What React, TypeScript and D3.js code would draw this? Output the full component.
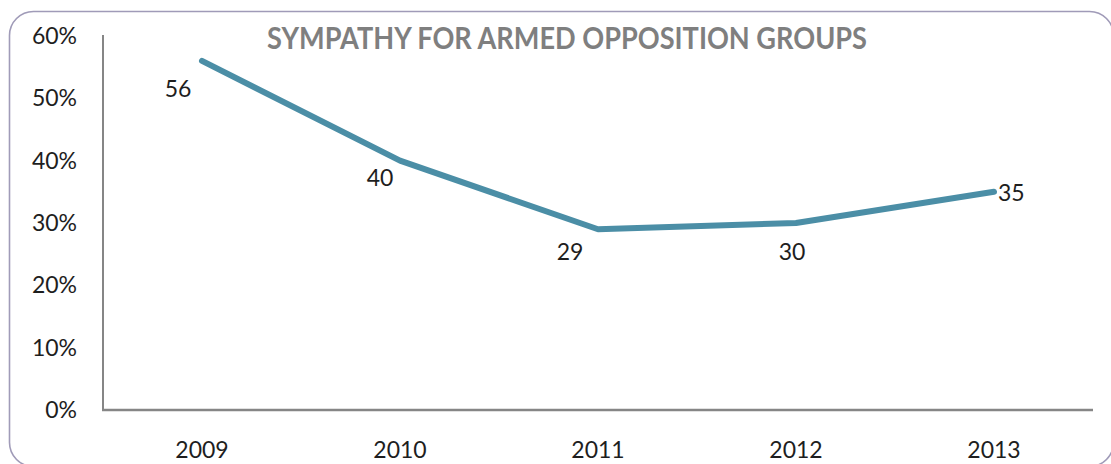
import React from "react";
import * as d3 from "d3";

const years = ["2009", "2010", "2011", "2012", "2013"];
const sympathy = [56, 40, 29, 30, 35];
const yTicks = [0, 10, 20, 30, 40, 50, 60];
const title = "SYMPATHY FOR ARMED OPPOSITION GROUPS";

const W = 1111;
const H = 464;
const FONT = "Lato, 'Open Sans', sans-serif";

export default function App() {
  const x = d3.scaleBand<string>().domain(years).range([103, 1093]).padding(0);
  const y = d3.scaleLinear().domain([0, 60]).range([410, 36]);
  const cx = (d: string) => (x(d) as number) + x.bandwidth() / 2;

  const pts: [number, number][] = years.map((yr, i) => [cx(yr), y(sympathy[i])]);
  const line = d3.line().curve(d3.curveLinear)(pts) || "";

  // label placement offsets (dx, dy, anchor) relative to each point
  const labelPlacement: [number, number, string][] = [
    [-24, 28, "middle"],
    [-20, 17, "middle"],
    [-28, 23, "middle"],
    [-4, 29, "middle"],
    [4, 1, "start"],
  ];

  return (
    <svg
      width={W}
      height={H}
      style={{ position: "absolute", left: 0, top: 0, background: "#fff" }}
      fontFamily={FONT}
    >
      <rect
        x={9.5}
        y={11.5}
        width={1104}
        height={455}
        rx={24}
        ry={24}
        fill="#fff"
        stroke="#a09bb8"
        strokeWidth={1.6}
      />
      <text
        x={567}
        y={49}
        textAnchor="middle"
        fontSize={30}
        fontWeight="bold"
        fill="#7f7f7f"
        textLength={600}
        lengthAdjust="spacingAndGlyphs"
      >
        {title}
      </text>

      {yTicks.map((t) => (
        <text
          key={t}
          x={77}
          y={y(t)}
          dy="0.35em"
          textAnchor="end"
          fontSize={23}
          fill="#1e1e1e"
        >
          {t + "%"}
        </text>
      ))}
      {years.map((yr) => (
        <text
          key={yr}
          x={cx(yr)}
          y={450}
          dy="0.35em"
          textAnchor="middle"
          fontSize={23}
          fill="#1e1e1e"
        >
          {yr}
        </text>
      ))}

      <line x1={103} x2={103} y1={y(60) - 1} y2={y(0)} stroke="#868686" strokeWidth={2} />
      <line x1={102} x2={1093} y1={y(0)} y2={y(0)} stroke="#868686" strokeWidth={2.5} />

      <path
        d={line}
        fill="none"
        stroke="#4b8ea6"
        strokeWidth={6}
        strokeLinejoin="round"
        strokeLinecap="round"
      />

      {sympathy.map((v, i) => {
        const [dx, dy, anchor] = labelPlacement[i];
        return (
          <text
            key={i}
            x={pts[i][0] + dx}
            y={pts[i][1] + dy}
            dy="0.35em"
            textAnchor={anchor as any}
            fontSize={23}
            fill="#1e1e1e"
          >
            {v}
          </text>
        );
      })}
    </svg>
  );
}
